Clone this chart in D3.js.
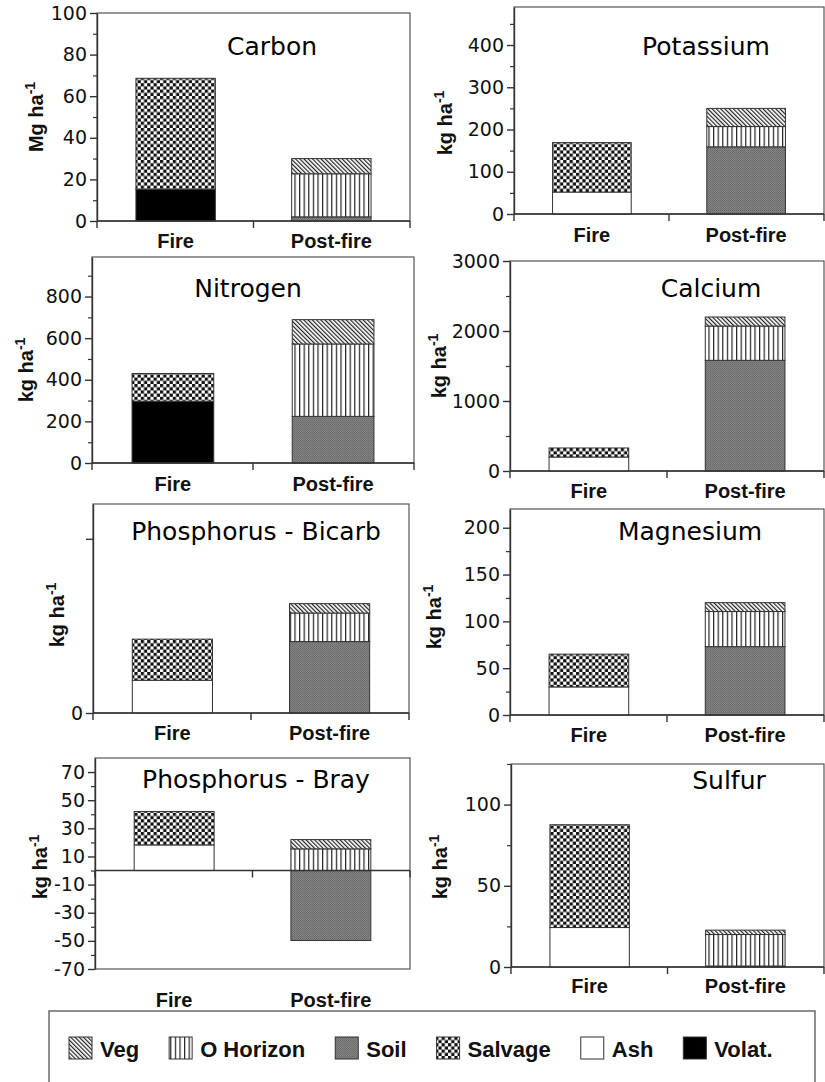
<!DOCTYPE html>
<html>
<head>
<meta charset="utf-8">
<script src="https://cdn.jsdelivr.net/npm/d3@7"></script>
<style>
  body { margin: 0; background: #fff; }
</style>
</head>
<body>
<div id="chart"></div>
<script>
// ---------- data ----------
var nutrients = ["Carbon", "Potassium", "Nitrogen", "Calcium",
                 "Phosphorus - Bicarb", "Magnesium", "Phosphorus - Bray", "Sulfur"];
var units = ["Mg ha", "kg ha", "kg ha", "kg ha", "kg ha", "kg ha", "kg ha", "kg ha"];
var categories = ["Fire", "Post-fire"];

// Fire bar segments
var fireVolat   = [15.3, 0, 296, 0, 0, 0, 0, 0];
var fireAsh     = [0, 52, 0, 200, 9.4, 30, 18.2, 24.3];
var fireSalvage = [53.3, 117, 134, 129, 11.8, 35, 23.8, 63.3];
// Post-fire bar segments
var postSoil     = [2, 159, 224, 1581, 20.5, 73, -49.7, 0.6];
var postOHorizon = [20.7, 48, 348, 490, 8.2, 37.5, 15.4, 19.4];
var postVeg      = [7.3, 43, 117, 129, 2.7, 9.5, 6.6, 2.7];

// axis domains and ticks
var yMin = [0, 0, 0, 0, 0, 0, -70, 0];
var yMax = [100, 490, 990, 3000, 60, 220, 80, 125];
var majorTicks = [
  [0, 20, 40, 60, 80, 100],
  [0, 100, 200, 300, 400],
  [0, 200, 400, 600, 800],
  [0, 1000, 2000, 3000],
  [0, 50],
  [0, 50, 100, 150, 200],
  [-70, -50, -30, -10, 10, 30, 50, 70],
  [0, 50, 100]
];
var minorTicks = [
  [10, 30, 50, 70, 90],
  [50, 150, 250, 350, 450],
  [100, 300, 500, 700, 900],
  [500, 1500, 2500],
  [],
  [25, 75, 125, 175],
  [-60, -40, -20, 0, 20, 40, 60],
  [25, 75, 125]
];
var labelZeroOnly = [false, false, false, false, true, false, false, false];

// legend
var legendKeys = ["Veg", "O Horizon", "Soil", "Salvage", "Ash", "Volat."];
var stackKeys = ["Volat.", "Ash", "Salvage", "Soil", "O Horizon", "Veg"];

// ---------- layout ----------
var panels = [
  {x0: 97,  x1: 410, top: 13,  bottom: 221, labX: 36,  labY: 117, tX: 272, tY: 55,  xl: 27},
  {x0: 514, x1: 824, top: 7,   bottom: 214, labX: 445, labY: 123, tX: 706, tY: 55,  xl: 28},
  {x0: 92,  x1: 414, top: 257, bottom: 463, labX: 26,  labY: 370, tX: 248, tY: 297, xl: 28},
  {x0: 510, x1: 824, top: 261, bottom: 471, labX: 439, labY: 366, tX: 711, tY: 297, xl: 27},
  {x0: 93,  x1: 409, top: 504, bottom: 713, labX: 57,  labY: 615, tX: 256, tY: 540, xl: 27},
  {x0: 510, x1: 824, top: 509, bottom: 715, labX: 434, labY: 617, tX: 690, tY: 540, xl: 27},
  {x0: 95,  x1: 410, top: 758, bottom: 969, labX: 40,  labY: 867, tX: 256, tY: 788, xl: 38},
  {x0: 511, x1: 824, top: 764, bottom: 967, labX: 440, labY: 867, tX: 729, tY: 789, xl: 26}
];

var W = 825, H = 1082;
var axisColor = "#333";

var svg = d3.select("#chart").append("svg")
  .attr("width", W)
  .attr("height", H)
  .style("display", "block");

// ---------- fill patterns ----------
var defs = svg.append("defs");

// Veg: diagonal hatch
var pVeg = defs.append("pattern").attr("id", "p-veg")
  .attr("patternUnits", "userSpaceOnUse")
  .attr("width", 3).attr("height", 3)
  .attr("patternTransform", "rotate(-45)");
pVeg.append("rect").attr("width", 3).attr("height", 3).attr("fill", "#fff");
pVeg.append("rect").attr("width", 1.2).attr("height", 3).attr("fill", "#222");

// O Horizon: vertical lines
var pOH = defs.append("pattern").attr("id", "p-oh")
  .attr("patternUnits", "userSpaceOnUse")
  .attr("width", 4.6).attr("height", 4);
pOH.append("rect").attr("width", 4.6).attr("height", 4).attr("fill", "#fff");
pOH.append("rect").attr("x", 0).attr("width", 1.2).attr("height", 4).attr("fill", "#222");

// Soil: fine grey stipple
var pSoil = defs.append("pattern").attr("id", "p-soil")
  .attr("patternUnits", "userSpaceOnUse")
  .attr("width", 2).attr("height", 2);
pSoil.append("rect").attr("width", 2).attr("height", 2).attr("fill", "#858585");
pSoil.append("rect").attr("width", 1).attr("height", 1).attr("fill", "#666");
pSoil.append("rect").attr("x", 1).attr("y", 1).attr("width", 1).attr("height", 1).attr("fill", "#707070");

// Salvage: checkerboard
var pSal = defs.append("pattern").attr("id", "p-sal")
  .attr("patternUnits", "userSpaceOnUse")
  .attr("width", 6.4).attr("height", 6.4);
pSal.append("rect").attr("width", 6.4).attr("height", 6.4).attr("fill", "#fff");
pSal.append("rect").attr("width", 3.2).attr("height", 3.2).attr("fill", "#111");
pSal.append("rect").attr("x", 3.2).attr("y", 3.2).attr("width", 3.2).attr("height", 3.2).attr("fill", "#111");

var fills = {
  "Veg": "url(#p-veg)",
  "O Horizon": "url(#p-oh)",
  "Soil": "url(#p-soil)",
  "Salvage": "url(#p-sal)",
  "Ash": "#fff",
  "Volat.": "#000"
};

var stack = d3.stack().keys(stackKeys).offset(d3.stackOffsetDiverging);

// ---------- panels ----------
panels.forEach(function(p, i) {
  var g = svg.append("g");

  var y = d3.scaleLinear().domain([yMin[i], yMax[i]]).range([p.bottom, p.top]);
  var x = d3.scaleBand().domain(categories)
    .range([p.x0, p.x1])
    .paddingInner(0.49)
    .paddingOuter(0.25);

  var rows = [
    {cat: "Fire", "Volat.": fireVolat[i], "Ash": fireAsh[i], "Salvage": fireSalvage[i],
     "Soil": 0, "O Horizon": 0, "Veg": 0},
    {cat: "Post-fire", "Volat.": 0, "Ash": 0, "Salvage": 0,
     "Soil": postSoil[i], "O Horizon": postOHorizon[i], "Veg": postVeg[i]}
  ];
  var series = stack(rows);

  // frame
  g.append("rect")
    .attr("x", p.x0).attr("y", p.top)
    .attr("width", p.x1 - p.x0).attr("height", p.bottom - p.top)
    .attr("fill", "none")
    .attr("stroke", "#555")
    .attr("stroke-width", 1.2);

  // stacked bars
  series.forEach(function(s) {
    g.append("g")
      .selectAll("rect")
      .data(s.filter(function(d) { return d[1] - d[0] !== 0; }))
      .enter().append("rect")
      .attr("x", function(d) { return x(d.data.cat); })
      .attr("width", x.bandwidth())
      .attr("y", function(d) { return y(d[1]); })
      .attr("height", function(d) { return y(d[0]) - y(d[1]); })
      .attr("fill", fills[s.key])
      .attr("stroke", "#333")
      .attr("stroke-width", 1);
  });

  // zero line
  g.append("line")
    .attr("x1", p.x0).attr("x2", p.x1)
    .attr("y1", y(0)).attr("y2", y(0))
    .attr("stroke", axisColor).attr("stroke-width", 1.4);

  // x category ticks
  g.selectAll(".xt")
    .data([p.x0, (p.x0 + p.x1) / 2, p.x1])
    .enter().append("line")
    .attr("x1", function(d) { return d; }).attr("x2", function(d) { return d; })
    .attr("y1", y(0)).attr("y2", y(0) + 7)
    .attr("stroke", axisColor).attr("stroke-width", 1.4);

  // y axis - minor ticks
  g.append("g")
    .attr("transform", "translate(" + p.x0 + ",0)")
    .call(d3.axisLeft(y).tickValues(minorTicks[i]).tickSize(4).tickSizeOuter(0).tickFormat(""))
    .call(function(a) {
      a.select(".domain").remove();
      a.selectAll("line").attr("stroke", axisColor).attr("stroke-width", 1.2);
    });

  // y axis - major ticks
  g.append("g")
    .attr("transform", "translate(" + p.x0 + ",0)")
    .call(d3.axisLeft(y).tickValues(majorTicks[i]).tickSize(7).tickSizeOuter(0).tickPadding(3)
      .tickFormat(function(d) { return (labelZeroOnly[i] && d !== 0) ? "" : d; }))
    .call(function(a) {
      a.select(".domain").attr("stroke", axisColor).attr("stroke-width", 1.4);
      a.selectAll("line").attr("stroke", axisColor).attr("stroke-width", 1.4);
      a.selectAll("text")
        .attr("fill", "#111")
        .style("font-family", "'DejaVu Sans', sans-serif")
        .style("font-size", "19px");
    });

  // title
  g.append("text")
    .attr("x", p.tX).attr("y", p.tY)
    .attr("text-anchor", "middle")
    .style("font-family", "'DejaVu Sans', sans-serif")
    .style("font-size", "25px")
    .attr("fill", "#000")
    .text(nutrients[i]);

  // x labels
  g.selectAll(".xl")
    .data(categories)
    .enter().append("text")
    .attr("x", function(d) { return x(d) + x.bandwidth() / 2; })
    .attr("y", p.bottom + p.xl)
    .attr("text-anchor", "middle")
    .style("font-family", "'Liberation Sans', Arial, sans-serif")
    .style("font-weight", "bold")
    .style("font-size", "20px")
    .attr("fill", "#111")
    .text(function(d) { return d; });

  // y label with superscript
  var yl = g.append("text")
    .attr("transform", "translate(" + p.labX + "," + p.labY + ") rotate(-90)")
    .attr("text-anchor", "middle")
    .attr("dy", "0.35em")
    .style("font-family", "'Liberation Sans', Arial, sans-serif")
    .style("font-weight", "bold")
    .style("font-size", "20px")
    .attr("fill", "#111");
  yl.append("tspan").text(units[i]);
  yl.append("tspan").attr("dy", "-0.6em").style("font-size", "14px").text("-1");
});

// ---------- legend ----------
var legend = svg.append("g");
legend.append("rect")
  .attr("x", 49).attr("y", 1011)
  .attr("width", 766).attr("height", 90)
  .attr("fill", "none")
  .attr("stroke", "#444")
  .attr("stroke-width", 1.2);

var lx = 69;
legendKeys.forEach(function(k) {
  legend.append("rect")
    .attr("x", lx).attr("y", 1037)
    .attr("width", 23).attr("height", 22)
    .attr("fill", fills[k])
    .attr("stroke", "#333").attr("stroke-width", 1);
  var t = legend.append("text")
    .attr("x", lx + 31).attr("y", 1057)
    .style("font-family", "'Liberation Sans', Arial, sans-serif")
    .style("font-weight", "bold")
    .style("font-size", "22px")
    .attr("fill", "#111")
    .text(k);
  lx += 31 + t.node().getComputedTextLength() + 30;
});
</script>
</body>
</html>
